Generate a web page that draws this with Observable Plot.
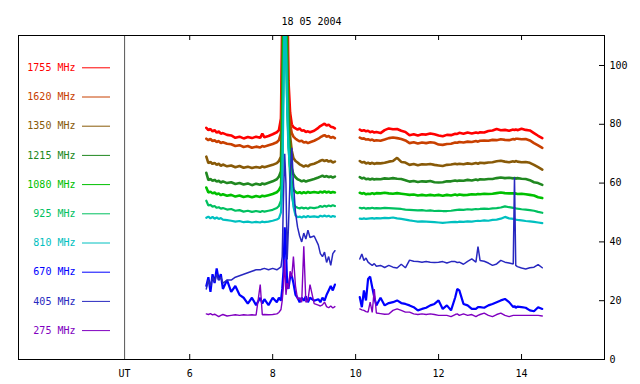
<!DOCTYPE html>
<html><head><meta charset="utf-8">
<script src="https://cdn.jsdelivr.net/npm/d3@7"></script>
<script src="https://cdn.jsdelivr.net/npm/@observablehq/plot@0.6"></script>
<style>body{margin:0;background:#fff;} svg{display:block}</style>
</head><body><div id="chart"></div>
<script>
const title = "18 05 2004";
const bands = ["1755 MHz","1620 MHz","1350 MHz","1215 MHz","1080 MHz","925 MHz","810 MHz","670 MHz","405 MHz","275 MHz"];
const colors = ["#ff0000","#c84000","#885a08","#208820","#00c000","#00c060","#00c0c0","#0000ff","#2828c0","#8000c0"];
const widths = [2.6,2.6,2.6,2.6,2.6,2.2,2.2,2.2,1.5,1.4];
const xTicks = [6,8,10,12,14];
const yTicks = [0,20,40,60,80,100];
const utHour = 4.43;
const gapHour = 9.8;

const hoursA = [6.40,6.45,6.50,6.55,6.60,6.65,6.70,6.75,6.80,
  6.90,7.00,7.10,7.20,7.30,7.40,7.50,7.60,7.70,7.75,7.80,7.90,
  8.00,8.10,8.15,8.20,8.23,8.26,8.29,8.32,8.35,8.38,8.42,8.46,8.50,
  8.55,8.60,8.65,8.70,8.75,8.80,8.85,8.90,9.00,9.10,9.15,9.20,9.25,9.30,9.35,9.40,9.45,9.50];
const hoursB = [10.10,10.15,10.20,10.25,10.30,10.35,10.40,10.45,10.50,
  10.60,10.70,10.80,10.90,11.00,11.10,11.20,11.30,11.40,11.50,
  11.60,11.70,11.80,11.90,12.00,12.10,12.20,12.30,12.40,12.45,
  12.50,12.60,12.70,12.80,12.90,12.95,13.00,13.10,13.20,13.30,
  13.40,13.50,13.60,13.70,13.80,13.83,13.86,13.90,14.00,14.10,
  14.20,14.30,14.40,14.50];

const f1755A = [78.8,78.0,78.4,77.6,78.0,77.2,77.6,76.8,77.0,
  76.4,76.2,75.4,75.8,75.2,75.7,75.3,75.8,75.4,76.8,75.6,76.0,
  76.6,77.3,78.0,82,115,160,170,165,130,95,84,80,79,
  78.6,78.2,78.6,77.8,78.0,77.4,77.6,77.3,77.8,78.8,79.4,79.8,80.2,79.6,79.9,79.2,79.0,78.6];
const f1755B = [78.2,77.8,78.0,77.6,77.8,77.3,77.6,77.2,77.4,
  77.0,78.0,78.6,78.3,78.4,77.8,77.4,76.3,76.6,76.2,
  76.6,76.5,76.9,76.6,76.2,75.9,76.4,76.3,76.8,76.7,
  77.1,76.8,77.2,76.9,77.2,77.0,77.3,77.2,77.7,77.9,
  78.4,78.0,78.1,77.8,78.2,78.0,78.3,78.0,78.5,78.1,
  77.9,77.0,76.1,75.3];

const f1620A = [75.1,74.6,75.0,74.3,74.6,74.0,74.3,73.6,73.9,
  73.4,73.2,72.6,72.9,72.3,72.6,72.0,72.4,72.1,72.6,72.4,72.9,
  73.3,73.9,74.6,77,100,145,160,150,115,88,80,77,75.8,
  75.1,74.6,74.2,74.4,73.8,74.0,73.6,73.9,74.4,75.1,75.6,76.0,76.3,75.8,76.0,75.4,75.7,75.3];
const f1620B = [75.5,75.1,75.2,74.8,74.9,74.6,74.8,74.4,74.6,
  74.4,74.8,75.3,75.5,75.3,75.0,74.5,73.6,73.9,73.5,
  73.8,73.6,73.9,73.7,73.1,73.0,73.3,73.4,73.8,73.7,
  74.0,73.8,74.1,74.0,74.3,74.1,74.4,74.5,74.4,74.7,
  74.6,74.9,74.7,74.6,75.0,74.8,75.1,75.1,74.9,75.0,
  74.5,73.6,72.8,72.0];

const f1350A = [69,66.8,67.2,66.5,66.9,66.2,66.6,65.9,66.3,
  65.7,66.0,65.4,65.8,65.2,65.6,65.1,65.5,65.2,65.7,65.4,65.8,
  66.2,66.8,67.5,69,85,130,150,140,105,85,76,71,68.5,
  67.5,67.0,66.4,66.0,65.6,66.0,65.7,66.2,66.6,67.2,67.6,67.9,67.5,67.8,67.3,67.6,67.0,67.3];
const f1350B = [67.5,67.0,67.2,66.7,66.9,66.6,66.9,66.5,66.8,
  66.7,66.9,67.3,67.5,68.6,67.2,67.0,66.2,66.5,66.1,
  66.4,66.3,66.5,66.2,66.0,65.8,66.2,66.3,66.6,66.4,
  66.6,66.4,66.7,66.5,66.8,66.6,66.9,66.8,67.0,67.1,
  67.4,67.6,67.3,67.1,67.4,67.2,67.5,67.3,67.1,67.2,
  66.9,66.2,65.4,64.6];

const f1215A = [63.5,61.0,61.4,60.8,61.1,60.5,60.8,60.2,60.6,
  60.0,60.3,59.7,60.0,59.5,59.9,59.3,59.8,59.4,59.9,59.6,60.1,
  60.6,61.3,62.2,64,78,120,145,130,98,80,70,65,63,
  62.0,61.3,61.0,60.6,60.9,60.5,60.8,61.0,61.4,61.9,62.2,62.5,62.1,62.4,62.0,62.3,61.9,62.2];
const f1215B = [62.0,61.6,61.8,61.3,61.5,61.2,61.5,61.2,61.4,
  61.3,61.6,61.5,61.7,61.5,61.4,61.0,60.5,60.7,60.4,
  60.6,60.5,60.7,60.3,60.2,60.3,60.6,60.6,60.9,60.7,
  60.9,60.8,61.1,60.9,61.2,61.0,61.3,61.2,61.4,61.4,
  61.7,61.9,61.7,61.8,61.6,61.8,61.5,61.7,61.5,61.4,
  61.0,60.3,60.0,59.4];

const f1080A = [58.5,56.8,57.1,56.5,56.8,56.2,56.5,55.9,56.2,
  55.7,56.0,55.4,55.8,55.3,55.6,55.2,55.6,55.3,55.7,55.5,55.9,
  56.3,56.9,57.6,59,70,112,140,120,90,76,66,60,57.8,
  57.0,56.6,56.9,56.5,56.9,56.6,57.0,56.7,57.0,56.7,57.1,56.8,57.2,56.8,57.1,56.7,57.0,56.8];
const f1080B = [56.7,56.4,56.6,56.2,56.4,56.3,56.6,56.3,56.6,
  56.5,56.7,56.5,56.4,56.6,56.4,56.2,56.0,56.1,55.8,
  56.0,55.8,56.0,55.8,56.0,55.7,56.0,55.8,56.1,55.9,
  56.1,55.9,56.0,56.2,56.1,56.3,56.2,56.4,56.3,56.4,
  56.6,56.8,56.6,56.5,56.5,56.4,56.5,56.3,56.4,56.2,
  56.0,55.8,55.2,54.9];

const f925A = [54.0,52.4,52.6,52.0,52.2,51.6,51.8,51.3,51.5,
  51.0,51.2,50.6,50.8,50.3,50.6,50.2,50.5,50.2,50.5,50.3,50.6,
  50.9,51.5,52.2,54,66,100,128,112,92,74,62,56,53,
  52.0,51.6,51.4,51.7,51.4,51.6,51.3,51.7,51.5,51.8,52.2,51.9,52.3,52.0,52.4,52.1,52.5,52.2];
const f925B = [51.6,51.4,51.6,51.3,51.5,51.4,51.6,51.4,51.5,
  51.4,51.6,51.5,51.4,51.3,51.2,51.0,50.9,50.8,50.7,
  50.8,50.6,50.7,50.5,50.6,50.5,50.5,50.6,50.8,50.9,
  51.0,50.9,51.1,51.0,51.2,51.1,51.2,51.3,51.2,51.4,
  51.5,51.7,52.1,51.8,51.6,51.5,51.4,51.3,51.1,51.0,
  50.8,50.6,50.2,49.9];

const f810A = [48.2,48.6,48.0,48.5,47.9,48.3,47.8,48.1,47.6,
  47.4,47.2,46.9,47.1,46.7,46.9,46.6,46.8,46.6,46.9,46.7,46.9,
  47.2,47.6,48.0,50,58,88,120,105,85,72,65,58,52,
  49.0,48.4,48.6,48.3,48.7,48.4,48.8,48.5,48.7,48.4,48.9,48.6,49.0,48.6,48.9,48.5,48.8,48.6];
const f810B = [47.9,47.8,48.0,47.8,47.9,48.0,48.1,47.9,48.1,
  48.0,48.2,48.1,48.3,48.0,47.8,47.6,47.3,47.1,46.9,
  47.0,46.9,46.8,46.7,46.6,46.5,46.6,46.7,46.8,46.7,
  46.9,46.8,47.0,46.9,47.1,47.2,47.1,47.3,47.2,47.5,
  47.6,47.9,48.5,48.0,47.8,47.7,47.6,47.5,47.3,47.1,
  47.0,46.8,46.6,46.4];

const f670A = [25,28,23,29,26,31,27,29,24,
  27,23,25,22,21,19,21,18.5,21,19,20.5,18.5,
  21,19.5,21,20,24,30,45,38,25,24,28,28.5,26,
  22,21,19.5,21,20,21.5,19.5,21,20,20.5,19.5,21,20,22,23.5,25,23.5,25.5];
const f670B = [21.2,17.8,23.5,20.1,27.4,28.2,24.6,21.2,18.4,
  21.0,18.4,19.2,19.5,20.1,19.2,18.9,18.4,17.8,16.7,
  17.2,17.6,18.4,18.9,20.1,17.2,18.4,16.7,21.1,24.0,
  23.5,18.9,18.4,17.2,17.2,17.8,17.8,17.6,18.4,18.9,
  19.5,20.1,20.6,19.5,17.8,18.2,17.6,18.0,17.8,17.6,
  16.7,16.4,17.8,17.2];

const f405A = [24,27,25,28,26.5,29,27,28,26,
  27,27,28,28.5,29,29.5,30,30.5,30.5,30.8,31,30.5,
  31,30.5,31,31.5,35,55,70,60,34,45,62,72,60,
  50,45,42,40,43,41,44,41.5,42,39,36,35,36.5,33,35,32,36,37];
const f405B = [34.2,35.9,33.7,34.5,33.1,32.5,32.0,32.6,31.7,
  32.0,31.3,32.0,31.4,31.1,32.4,31.2,33.8,33.4,33.3,
  33.1,33.3,33.1,33.0,33.1,33.3,32.8,33.3,33.3,33.0,
  33.1,32.4,33.4,34.2,33.1,38.4,33.7,33.4,32.8,32.0,
  32.5,33.7,33.1,32.8,32.5,62.0,32.0,31.6,31.1,30.8,
  31.2,31.4,32.3,31.2];

const f275A = [15.5,15.3,15.6,15.2,15.4,15.0,14.6,15.0,15.3,
  14.8,15.0,15.2,15.0,15.2,15.1,15.2,15.1,25.5,15.2,15.3,15.2,
  15.3,15.5,16,17,20,25,34,22,26,24,30,28,35,
  25,20.5,21,19.5,38.5,19.5,20,25.5,19,18.5,18.2,18.6,19.5,18,17.6,18.2,17.5,18];
const f275B = [17.2,16.9,16.7,16.3,16.1,19.5,16.0,24.0,15.8,
  15.6,15.4,15.5,16.7,17.2,16.7,16.1,16.1,15.5,15.3,
  15.5,15.3,15.5,15.3,15.0,15.0,15.0,14.6,15.3,15.5,
  15.0,15.5,15.0,15.3,14.6,15.0,15.3,15.8,15.0,14.6,
  15.3,15.8,15.0,14.6,15.0,15.0,15.0,15.0,15.0,15.0,
  15.0,15.0,15.0,14.8];

const seriesA = [f1755A,f1620A,f1350A,f1215A,f1080A,f925A,f810A,f670A,f405A,f275A];
const seriesB = [f1755B,f1620B,f1350B,f1215B,f1080B,f925B,f810B,f670B,f405B,f275B];

// layout
const W = 640, H = 384, mL = 18, mR = 36, mT = 35, mB = 25;
const xDomain = [1.872, 16.0], yDomain = [0, 110.2];
const pxX = (xDomain[1]-xDomain[0])/(W-mL-mR);   // hours per pixel
const pxY = (yDomain[1]-yDomain[0])/(H-mT-mB);   // units per pixel
const xAt = p => xDomain[0] + (p - mL)*pxX;
const yAt = p => yDomain[1] - (p - mT)*pxY;
const tick = 5;

const hours = [...hoursA, gapHour, ...hoursB];
const marks = [];

bands.forEach((b, i) => {
  const vals = [...seriesA[i], null, ...seriesB[i]];
  const data = hours.map((h, j) => ({hour: h, value: vals[j]}));
  marks.push(Plot.line(data, {x: "hour", y: "value", stroke: colors[i], strokeWidth: widths[i], strokeLinejoin: "miter", clip: true}));
});

// legend
bands.forEach((b, i) => {
  const yv = yAt(67.3 + i*29.2);
  marks.push(Plot.text([b], {x: xAt(75), y: yv, text: d => d, textAnchor: "end", fill: colors[i]}));
  marks.push(Plot.ruleY([yv], {x1: xAt(82), x2: xAt(110), stroke: colors[i], strokeWidth: 1}));
});

marks.push(
  Plot.ruleX([utHour], {stroke: "#555", strokeWidth: 1}),
  Plot.ruleX(xTicks, {y1: yDomain[0], y2: yDomain[0] + tick*pxY, stroke: "black"}),
  Plot.ruleX(xTicks, {y1: yDomain[1], y2: yDomain[1] - tick*pxY, stroke: "black"}),
  Plot.ruleY(yTicks, {x1: xDomain[1], x2: xDomain[1] - tick*pxX, stroke: "black"}),
  Plot.axisX({ticks: xTicks, tickSize: 0, tickPadding: 10, label: null}),
  Plot.axisY({anchor: "right", ticks: yTicks, tickSize: 0, tickPadding: 5, label: null}),
  Plot.text(["UT"], {x: utHour, frameAnchor: "bottom", lineAnchor: "top", dy: 10, text: d => d, fill: "black"}),
  Plot.text([title], {frameAnchor: "top", dy: -17.5, text: d => d, fill: "black"}),
  Plot.frame({stroke: "black", strokeWidth: 1})
);

const chart = Plot.plot({
  width: W, height: H,
  marginLeft: mL, marginRight: mR, marginTop: mT, marginBottom: mB,
  x: {domain: xDomain},
  y: {domain: yDomain},
  style: {fontFamily: "DejaVu Sans Mono", fontSize: "10px", background: "white", color: "black"},
  marks
});
document.getElementById("chart").appendChild(chart);
</script>
</body></html>
